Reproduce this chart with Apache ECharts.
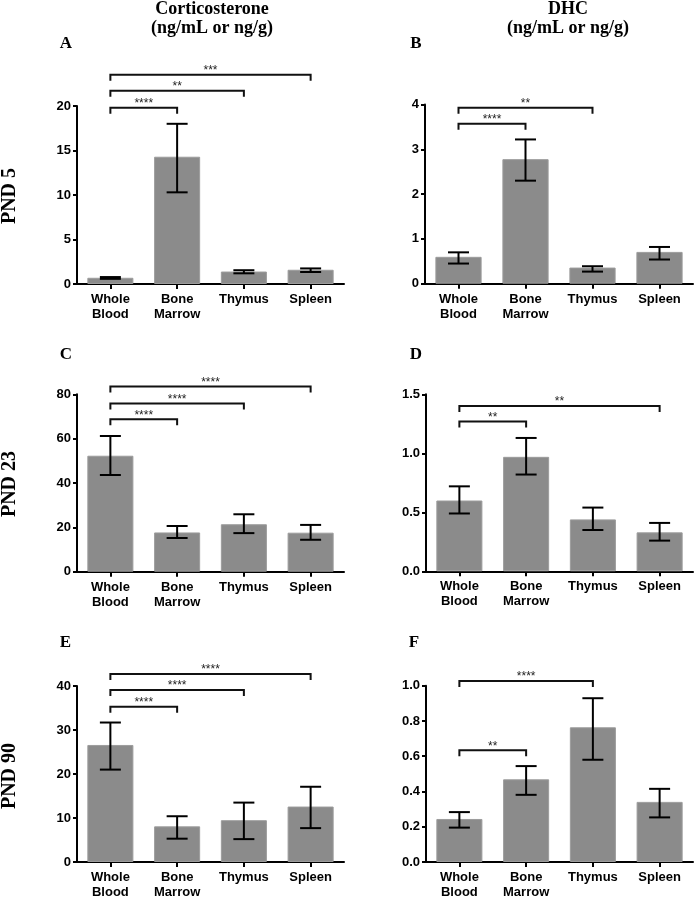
<!DOCTYPE html>
<html><head><meta charset="utf-8">
<script src="https://cdn.jsdelivr.net/npm/echarts@6/dist/echarts.min.js"></script>
<style>html,body{margin:0;padding:0;background:#fff}#c{width:698px;height:900px}</style>
</head><body><div id="c"></div>
<script>
// ---------- data ----------
const categories = ['Whole\nBlood', 'Bone\nMarrow', 'Thymus', 'Spleen'];

// A: Corticosterone, PND 5
const meanA = [0.70, 14.3, 1.40, 1.60];
const lowA  = [0.58, 10.3, 1.20, 1.35];
const highA = [0.78, 18.0, 1.55, 1.75];
const sigA  = [[0, 1, 19.8, '****'], [0, 2, 21.7, '**'], [0, 3, 23.5, '***']];

// B: DHC, PND 5
const meanB = [0.60, 2.78, 0.36, 0.71];
const lowB  = [0.45, 2.30, 0.27, 0.54];
const highB = [0.70, 3.22, 0.39, 0.82];
const sigB  = [[0, 1, 3.57, '****'], [0, 2, 3.93, '**']];

// C: Corticosterone, PND 23
const meanC = [52.3, 17.7, 21.4, 17.6];
const lowC  = [43.6, 15.2, 17.4, 14.4];
const highC = [61.2, 20.6, 25.9, 21.1];
const sigC  = [[0, 1, 68.7, '****'], [0, 2, 75.8, '****'], [0, 3, 83.5, '****']];

// D: DHC, PND 23
const meanD = [0.60, 0.97, 0.44, 0.33];
const lowD  = [0.49, 0.82, 0.35, 0.26];
const highD = [0.72, 1.13, 0.54, 0.41];
const sigD  = [[0, 1, 1.27, '**'], [0, 3, 1.40, '**']];

// E: Corticosterone, PND 90
const meanE = [26.6, 8.1, 9.5, 12.6];
const lowE  = [21.0, 5.3, 5.2, 7.7];
const highE = [31.7, 10.4, 13.5, 17.1];
const sigE  = [[0, 1, 35.3, '****'], [0, 2, 39.1, '****'], [0, 3, 42.7, '****']];

// F: DHC, PND 90
const meanF = [0.244, 0.469, 0.764, 0.341];
const lowF  = [0.195, 0.381, 0.580, 0.253];
const highF = [0.283, 0.544, 0.929, 0.415];
const sigF  = [[0, 1, 0.634, '**'], [0, 2, 1.026, '****']];

// axis ranges / ticks
const yMaxes    = [20, 4, 80, 1.5, 40, 1.0];
const yIntervals = [5, 1, 20, 0.5, 10, 0.2];
const yDecimals = [0, 0, 0, 1, 0, 1];

const panelLetters = ['A', 'B', 'C', 'D', 'E', 'F'];
const columnTitles = [['Corticosterone', '(ng/mL or ng/g)'], ['DHC', '(ng/mL or ng/g)']];
const rowTitles = ['PND 5', 'PND 23', 'PND 90'];

const means = [meanA, meanB, meanC, meanD, meanE, meanF];
const lows  = [lowA, lowB, lowC, lowD, lowE, lowF];
const highs = [highA, highB, highC, highD, highE, highF];
const sigs  = [sigA, sigB, sigC, sigD, sigE, sigF];

// ---------- layout ----------
const grids = [
  { left: 77,  top: 106,   width: 267, height: 178 },
  { left: 425, top: 104.5, width: 268, height: 179.2 },
  { left: 77,  top: 394.3, width: 267, height: 177.4 },
  { left: 426, top: 394.3, width: 267, height: 177 },
  { left: 77,  top: 686,   width: 267, height: 177.3 },
  { left: 426, top: 685.7, width: 267, height: 177.6 }
];
const letterPos = [[66, 44], [416, 44], [66, 355], [416, 355], [65.5, 643], [414, 643]];
const colCenters = [212, 568];
const rowCenters = [196, 484, 776];

const SANS = '"Liberation Sans", Arial, sans-serif';
const SERIF = '"Liberation Serif", "Times New Roman", serif';

const chart = echarts.init(document.getElementById('c'), null, { renderer: 'canvas' });

const xAxes = [], yAxes = [], series = [];
grids.forEach((g, i) => {
  xAxes.push({
    type: 'category', gridIndex: i, data: categories,
    axisLine: { show: true, lineStyle: { color: '#000', width: 2 } },
    axisTick: { show: true, alignWithLabel: true, length: 5, lineStyle: { color: '#000', width: 2 } },
    axisLabel: { color: '#000', fontFamily: SANS, fontWeight: 'bold', fontSize: 13, lineHeight: 15, margin: 8, interval: 0 },
    splitLine: { show: false }
  });
  yAxes.push({
    type: 'value', gridIndex: i, min: 0, max: yMaxes[i], interval: yIntervals[i],
    axisLine: { show: true, lineStyle: { color: '#000', width: 2 } },
    axisTick: { show: true, length: 4, lineStyle: { color: '#000', width: 2 } },
    axisLabel: { color: '#000', fontFamily: SANS, fontWeight: 'bold', fontSize: 13, margin: 6,
      formatter: v => v.toFixed(yDecimals[i]) },
    splitLine: { show: false }
  });
  series.push({
    type: 'bar', xAxisIndex: i, yAxisIndex: i, data: means[i], barWidth: '69%',
    itemStyle: { color: '#8b8b8b', borderColor: '#9c9c9c', borderWidth: 1 },
    silent: true, animation: false
  });
  series.push({
    type: 'custom', xAxisIndex: i, yAxisIndex: i,
    data: categories.map((c, k) => [k, lows[i][k], highs[i][k]]),
    encode: { x: 0, y: [1, 2] },
    renderItem: (params, api) => {
      const x = api.value(0);
      const pLo = api.coord([x, api.value(1)]);
      const pHi = api.coord([x, api.value(2)]);
      const hw = 10.5;
      const st = { stroke: '#000', lineWidth: 2, fill: null };
      return { type: 'group', children: [
        { type: 'line', shape: { x1: pLo[0], y1: pLo[1], x2: pHi[0], y2: pHi[1] }, style: st },
        { type: 'line', shape: { x1: pLo[0] - hw, y1: pLo[1], x2: pLo[0] + hw, y2: pLo[1] }, style: st },
        { type: 'line', shape: { x1: pHi[0] - hw, y1: pHi[1], x2: pHi[0] + hw, y2: pHi[1] }, style: st }
      ]};
    },
    silent: true, animation: false, z: 5
  });
  const sig = sigs[i];
  series.push({
    type: 'custom', xAxisIndex: i, yAxisIndex: i, clip: false,
    data: sig.map(s => [s[0], s[1], s[2]]),
    encode: { x: [0, 1], y: 2 },
    renderItem: (params, api) => {
      const p1 = api.coord([api.value(0), api.value(2)]);
      const p2 = api.coord([api.value(1), api.value(2)]);
      const d = 6;
      const label = sig[params.dataIndex][3];
      return { type: 'group', children: [
        { type: 'polyline', shape: { points: [[p1[0], p1[1] + d], [p1[0], p1[1]], [p2[0], p2[1]], [p2[0], p2[1] + d]] },
          style: { stroke: '#111', lineWidth: 2, fill: null } },
        { type: 'text', x: (p1[0] + p2[0]) / 2, y: p1[1] - 4,
          style: { text: label, fill: '#222', font: '12px ' + SANS, textAlign: 'center', textVerticalAlign: 'middle' } }
      ]};
    },
    silent: true, animation: false, z: 6
  });
});

const graphics = [];
columnTitles.forEach((lines, c) => {
  lines.forEach((t, l) => {
    graphics.push({ type: 'text', x: colCenters[c], y: 9.5 + l * 19,
      style: { text: t, fill: '#000', font: 'bold 18px ' + SERIF, textAlign: 'center', textVerticalAlign: 'middle' } });
  });
});
panelLetters.forEach((t, i) => {
  graphics.push({ type: 'text', x: letterPos[i][0], y: letterPos[i][1],
    style: { text: t, fill: '#000', font: 'bold 17px ' + SERIF, textAlign: 'center', textVerticalAlign: 'middle' } });
});
rowTitles.forEach((t, r) => {
  graphics.push({ type: 'text', x: 10, y: rowCenters[r], rotation: Math.PI / 2,
    style: { text: t, fill: '#000', font: 'bold 20px ' + SERIF, textAlign: 'center', textVerticalAlign: 'middle' } });
});

chart.setOption({
  backgroundColor: '#fff',
  animation: false,
  grid: grids.map(g => Object.assign({ containLabel: false }, g)),
  xAxis: xAxes,
  yAxis: yAxes,
  series: series,
  graphic: graphics
});
</script></body></html>
